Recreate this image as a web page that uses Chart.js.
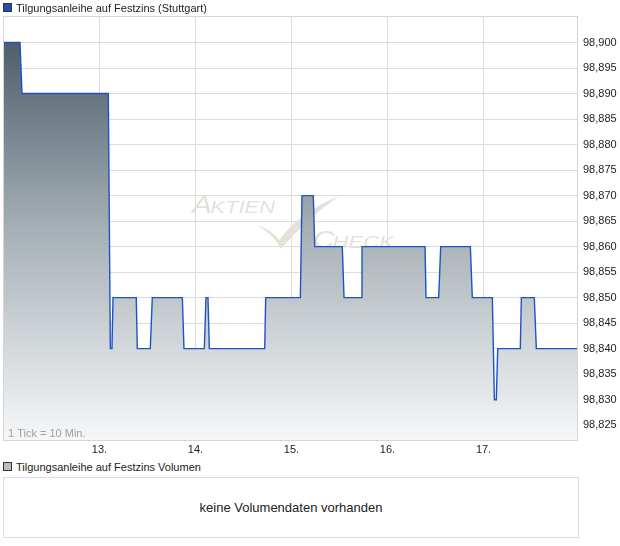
<!DOCTYPE html>
<html>
<head>
<meta charset="utf-8">
<script src="https://cdn.jsdelivr.net/npm/chart.js@4.4.1/dist/chart.umd.min.js"></script>
<style>
body{margin:0;background:#fff;font-family:"Liberation Sans",Arial,sans-serif;color:#222;}
#wrap{position:relative;width:620px;height:546px;overflow:hidden;}
#priceChart{position:absolute;left:0;top:0;}
.leg{position:absolute;left:3px;font-size:11px;line-height:14px;white-space:nowrap;}
.sq{display:inline-block;width:7px;height:7px;border:1px solid #333;margin-right:4px;vertical-align:-0px;}
#volBox{position:absolute;left:3px;top:477px;width:574px;height:59px;border:1px solid #dcdcdc;
  font-size:13px;line-height:59px;text-align:center;}
</style>
</head>
<body>
<div id="wrap">
  <canvas id="priceChart" width="620" height="460"></canvas>
  <div class="leg" style="top:1px"><span class="sq" style="background:#1f4fb5"></span>Tilgungsanleihe auf Festzins (Stuttgart)</div>
  <div class="leg" style="top:460px"><span class="sq" style="background:#bdbdbd"></span>Tilgungsanleihe auf Festzins Volumen</div>
  <div id="volBox">keine Volumendaten vorhanden</div>
</div>
<script>
// time in trading days (13. = day 13), price in EUR
const tickDays = [11.995, 12.172, 12.193, 13.092, 13.113, 13.130, 13.141, 13.383, 13.394, 13.529,
                  13.550, 13.863, 13.880, 14.092, 14.109, 14.130, 14.144, 14.721, 14.731, 15.092,
                  15.109, 15.227, 15.242, 15.529, 15.547, 15.724, 15.734, 16.391, 16.401, 16.533,
                  16.554, 16.863, 16.883, 17.092, 17.113, 17.133, 17.148, 17.383, 17.394, 17.529,
                  17.550, 17.984];
const prices = [98.900, 98.900, 98.890, 98.890, 98.840, 98.840, 98.850, 98.850, 98.840, 98.840,
                98.850, 98.850, 98.840, 98.840, 98.850, 98.850, 98.840, 98.840, 98.850, 98.850,
                98.870, 98.870, 98.860, 98.860, 98.850, 98.850, 98.860, 98.860, 98.850, 98.850,
                98.860, 98.860, 98.850, 98.850, 98.830, 98.830, 98.840, 98.840, 98.850, 98.850,
                98.840, 98.840];
const dayTicks = [13, 14, 15, 16, 17];
const priceTicks = [98.825, 98.830, 98.835, 98.840, 98.845, 98.850, 98.855, 98.860,
                    98.865, 98.870, 98.875, 98.880, 98.885, 98.890, 98.895, 98.900];

const points = tickDays.map((d, i) => ({x: d, y: prices[i]}));

function fillGradient(context) {
    const area = context.chart.chartArea;
    if (!area) return 'rgba(120,135,145,0.6)';
    const g = context.chart.ctx.createLinearGradient(0, area.top, 0, area.bottom);
    g.addColorStop(0, 'rgb(66,83,96)');
    g.addColorStop(0.5, 'rgb(165,175,181)');
    g.addColorStop(1, 'rgb(246,247,248)');
    return g;
}

// watermark + frame + tick-size note
const decor = {
    id: 'decor',
    beforeDatasetsDraw(chart) {
        const ctx = chart.ctx;
        ctx.save();
        ctx.fillStyle = 'rgb(230,224,218)';
        ctx.textBaseline = 'alphabetic';
        // wide letters
        ctx.save();
        ctx.translate(192, 213);
        ctx.scale(1.3, 1);
        ctx.font = 'italic 23px "Liberation Sans", Arial';
        ctx.fillText('A', 0, 0);
        ctx.font = 'italic 17px "Liberation Sans", Arial';
        ctx.fillText('KTIEN', 14, 0);
        ctx.restore();
        ctx.save();
        ctx.translate(313, 248);
        ctx.scale(1.3, 1);
        ctx.font = 'italic 23px "Liberation Sans", Arial';
        ctx.fillText('C', 0, 0);
        ctx.font = 'italic 17px "Liberation Sans", Arial';
        ctx.fillText('HECK', 15, 0);
        ctx.restore();
        // check mark
        ctx.beginPath();
        ctx.moveTo(256, 225);
        ctx.quadraticCurveTo(270, 228, 279, 240);
        ctx.quadraticCurveTo(300, 212, 339, 196);
        ctx.quadraticCurveTo(305, 220, 281, 249);
        ctx.quadraticCurveTo(272, 232, 256, 225);
        ctx.fill();
        ctx.restore();
    },
    afterDraw(chart) {
        const ctx = chart.ctx, a = chart.chartArea;
        ctx.save();
        ctx.strokeStyle = '#d6d6d6';
        ctx.lineWidth = 1;
        ctx.strokeRect(a.left + 0.5, a.top + 0.5, a.right - a.left - 1, a.bottom - a.top);
        ctx.fillStyle = '#a0a0a0';
        ctx.font = '11px "Liberation Sans", Arial';
        ctx.textBaseline = 'alphabetic';
        ctx.fillText('1 Tick = 10 Min.', 8, 437);
        ctx.restore();
    }
};

const config = {
    type: 'line',
    data: {
        datasets: [{
            label: 'Tilgungsanleihe auf Festzins (Stuttgart)',
            data: points,
            borderColor: 'rgb(28,84,196)',
            borderWidth: 1.4,
            pointRadius: 0,
            tension: 0,
            fill: 'start',
            backgroundColor: fillGradient
        }]
    },
    options: {
        responsive: false,
        animation: false,
        devicePixelRatio: 1,
        layout: { padding: { left: 3, top: 16, right: 0, bottom: 0 } },
        plugins: { legend: { display: false }, tooltip: { enabled: false } },
        scales: {
            x: {
                type: 'linear',
                min: 11.995,
                max: 17.984,
                afterBuildTicks: s => { s.ticks = dayTicks.map(v => ({value: v})); },
                afterFit: s => { s.height = 20; },
                ticks: {
                    callback: v => v + '.',
                    font: { size: 11, family: '"Liberation Sans", Arial' },
                    color: '#222',
                    padding: 3,
                    maxRotation: 0
                },
                grid: { color: '#dcdcdc', drawTicks: false },
                border: { display: false }
            },
            y: {
                position: 'right',
                min: 98.8221,
                max: 98.9052,
                afterBuildTicks: s => { s.ticks = priceTicks.map(v => ({value: v})); },
                afterFit: s => { s.width = 42; },
                ticks: {
                    callback: v => v.toFixed(3).replace('.', ','),
                    font: { size: 11, family: '"Liberation Sans", Arial' },
                    color: '#222',
                    padding: 5
                },
                grid: { color: '#dcdcdc', drawTicks: false },
                border: { display: false }
            }
        }
    },
    plugins: [decor]
};

const priceChart = new Chart(document.getElementById('priceChart'), config);
</script>
</body>
</html>
